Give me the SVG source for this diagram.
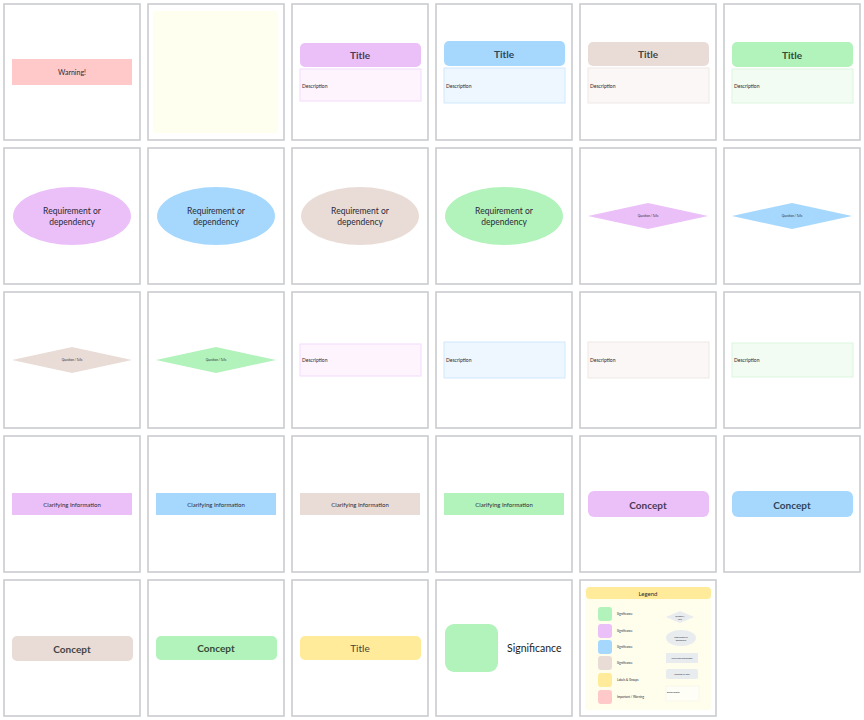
<svg xmlns="http://www.w3.org/2000/svg" width="864" height="720" viewBox="0 0 864 720">
<style>
.cell{fill:#fff;stroke:#c9cbcf;stroke-width:1.6}
text{font-family:Lato,"Noto Sans",sans-serif;fill:#2a2a35;text-anchor:middle;dominant-baseline:central}
.s5{font-size:5px}
.s4{font-size:3px}
.s7{font-size:7px}
.s8{font-size:8.5px}
.t{font-size:10px;font-weight:bold;fill:#444}
.d{font-size:5px;text-anchor:start}
.pu{fill:#ebc0f8}.bl{fill:#a6d8fe}.br{fill:#e9dcd7}.gr{fill:#b2f2bb}.ye{fill:#ffeb99}.rd{fill:#ffc9c9}
.dpu{fill:#fdf4fe;stroke:#f3dcfb}.dbl{fill:#eef7ff;stroke:#cfe8fd}.dbr{fill:#faf7f6;stroke:#efe8e5}.dgr{fill:#f2fcf3;stroke:#dcf5df}
.lg{fill:#e9ecef}
</style>
<g id="grid">
<rect class="cell" x="4" y="4" width="136" height="136"/><rect class="cell" x="148" y="4" width="136" height="136"/><rect class="cell" x="292" y="4" width="136" height="136"/><rect class="cell" x="436" y="4" width="136" height="136"/><rect class="cell" x="580" y="4" width="136" height="136"/><rect class="cell" x="724" y="4" width="136" height="136"/>
<rect class="cell" x="4" y="148" width="136" height="136"/><rect class="cell" x="148" y="148" width="136" height="136"/><rect class="cell" x="292" y="148" width="136" height="136"/><rect class="cell" x="436" y="148" width="136" height="136"/><rect class="cell" x="580" y="148" width="136" height="136"/><rect class="cell" x="724" y="148" width="136" height="136"/>
<rect class="cell" x="4" y="292" width="136" height="136"/><rect class="cell" x="148" y="292" width="136" height="136"/><rect class="cell" x="292" y="292" width="136" height="136"/><rect class="cell" x="436" y="292" width="136" height="136"/><rect class="cell" x="580" y="292" width="136" height="136"/><rect class="cell" x="724" y="292" width="136" height="136"/>
<rect class="cell" x="4" y="436" width="136" height="136"/><rect class="cell" x="148" y="436" width="136" height="136"/><rect class="cell" x="292" y="436" width="136" height="136"/><rect class="cell" x="436" y="436" width="136" height="136"/><rect class="cell" x="580" y="436" width="136" height="136"/><rect class="cell" x="724" y="436" width="136" height="136"/>
<rect class="cell" x="4" y="580" width="136" height="136"/><rect class="cell" x="148" y="580" width="136" height="136"/><rect class="cell" x="292" y="580" width="136" height="136"/><rect class="cell" x="436" y="580" width="136" height="136"/><rect class="cell" x="580" y="580" width="136" height="136"/>
</g>
<g id="connectors"/>
<g id="warning"><rect class="rd" x="12" y="59" width="120" height="26"/><text class="s7" x="72" y="72">Warning!</text></g>
<g id="note"><rect x="153" y="11" width="125" height="122" rx="3" fill="#fffff0"/></g>
<g id="card-purple"><rect class="pu" x="300" y="43" width="121" height="24" rx="5"/><text class="t" x="360" y="55" style="fill:#4a3a55">Title</text><rect class="dpu" x="300" y="69" width="121" height="32"/><text class="d" x="302" y="85.5">Description</text></g>
<g id="card-blue"><rect class="bl" x="444" y="41" width="121" height="25" rx="5"/><text class="t" x="504" y="53.5" style="fill:#2f4458">Title</text><rect class="dbl" x="444" y="68" width="121" height="35"/><text class="d" x="446" y="85.5">Description</text></g>
<g id="card-brown"><rect class="br" x="588" y="42" width="121" height="24" rx="5"/><text class="t" x="648" y="54">Title</text><rect class="dbr" x="588" y="68" width="121" height="35"/><text class="d" x="590" y="85.5">Description</text></g>
<g id="card-green"><rect class="gr" x="732" y="42" width="121" height="25" rx="5"/><text class="t" x="792" y="54.5" style="fill:#334a37">Title</text><rect class="dgr" x="732" y="69" width="121" height="34"/><text class="d" x="734" y="85.5">Description</text></g>
<g id="req-purple"><ellipse class="pu" cx="72" cy="216" rx="59" ry="29"/><text class="s8" x="72" y="211">Requirement or</text><text class="s8" x="72" y="221.5">dependency</text></g>
<g id="req-blue"><ellipse class="bl" cx="216" cy="216" rx="59" ry="29"/><text class="s8" x="216" y="211">Requirement or</text><text class="s8" x="216" y="221.5">dependency</text></g>
<g id="req-brown"><ellipse class="br" cx="360" cy="216" rx="59" ry="29"/><text class="s8" x="360" y="211">Requirement or</text><text class="s8" x="360" y="221.5">dependency</text></g>
<g id="req-green"><ellipse class="gr" cx="504" cy="216" rx="59" ry="29"/><text class="s8" x="504" y="211">Requirement or</text><text class="s8" x="504" y="221.5">dependency</text></g>
<g id="q-purple"><polygon class="pu" points="588,216 648,203 708,216 648,229"/><text class="s4" x="648" y="216">Question / Tells</text></g>
<g id="q-blue"><polygon class="bl" points="732,216 792,203 852,216 792,229"/><text class="s4" x="792" y="216">Question / Tells</text></g>
<g id="q-brown"><polygon class="br" points="12,360 72,347 132,360 72,373"/><text class="s4" x="72" y="360">Question / Tells</text></g>
<g id="q-green"><polygon class="gr" points="156,360 216,347 276,360 216,373"/><text class="s4" x="216" y="360">Question / Tells</text></g>
<g id="desc-purple"><rect class="dpu" x="300" y="344" width="121" height="32"/><text class="d" x="302" y="360">Description</text></g>
<g id="desc-blue"><rect class="dbl" x="444" y="342" width="121" height="36"/><text class="d" x="446" y="359.5">Description</text></g>
<g id="desc-brown"><rect class="dbr" x="588" y="342" width="121" height="36"/><text class="d" x="590" y="359.5">Description</text></g>
<g id="desc-green"><rect class="dgr" x="732" y="343" width="121" height="34"/><text class="d" x="734" y="360">Description</text></g>
<g id="clar-purple"><rect class="pu" x="12" y="493" width="120" height="22"/><text class="s5" x="72" y="504" style="font-size:6px">Clarifying Information</text></g>
<g id="clar-blue"><rect class="bl" x="156" y="493" width="120" height="22"/><text class="s5" x="216" y="504" style="font-size:6px">Clarifying Information</text></g>
<g id="clar-brown"><rect class="br" x="300" y="493" width="120" height="22"/><text class="s5" x="360" y="504" style="font-size:6px">Clarifying Information</text></g>
<g id="clar-green"><rect class="gr" x="444" y="493" width="120" height="22"/><text class="s5" x="504" y="504" style="font-size:6px">Clarifying Information</text></g>
<g id="concept-purple"><rect class="pu" x="588" y="491" width="121" height="26" rx="6"/><text class="t" x="648" y="504.5" style="fill:#4a3a55">Concept</text></g>
<g id="concept-blue"><rect class="bl" x="732" y="491" width="121" height="26" rx="6"/><text class="t" x="792" y="504.5" style="fill:#2f4458">Concept</text></g>
<g id="concept-brown"><rect class="br" x="12" y="636" width="121" height="25" rx="5"/><text class="t" x="72" y="648.5">Concept</text></g>
<g id="concept-green"><rect class="gr" x="156" y="636" width="121" height="24" rx="5"/><text class="t" x="216" y="648" style="fill:#334a37">Concept</text></g>
<g id="title-yellow"><rect class="ye" x="300" y="636" width="121" height="24" rx="5"/><text class="t" x="360" y="648" style="font-weight:normal;font-size:10px">Title</text></g>
<g id="significance"><rect class="gr" x="445" y="624" width="53" height="48" rx="9"/><text x="507" y="648" style="font-size:10.5px;text-anchor:start;fill:#222">Significance</text></g>
<g id="legend">
<rect x="585" y="587" width="126" height="123" rx="4" fill="#fffdeb"/>
<rect class="ye" x="586" y="587" width="125" height="12" rx="4"/>
<text class="s5" x="648" y="593" style="font-size:6px">Legend</text>
<rect class="gr" x="598" y="607" width="14" height="14" rx="3"/><text class="s4" x="617" y="614" style="text-anchor:start">Significance</text>
<rect class="pu" x="598" y="624" width="14" height="14" rx="3"/><text class="s4" x="617" y="631" style="text-anchor:start">Significance</text>
<rect class="bl" x="598" y="640" width="14" height="14" rx="3"/><text class="s4" x="617" y="647" style="text-anchor:start">Significance</text>
<rect class="br" x="598" y="656" width="14" height="14" rx="3"/><text class="s4" x="617" y="663" style="text-anchor:start">Significance</text>
<rect class="ye" x="598" y="673" width="14" height="14" rx="3"/><text class="s4" x="617" y="680" style="text-anchor:start">Labels &amp; Groups</text>
<rect x="598" y="690" width="14" height="14" rx="3" fill="#ffc9c9"/><text class="s4" x="617" y="697" style="text-anchor:start">Important / Warning</text>
<polygon class="lg" points="666,617 680,611 694,617 680,623"/><text class="s4" x="680" y="616" style="font-size:2px">Question /</text><text class="s4" x="680" y="618.5" style="font-size:2px">Tells</text>
<ellipse class="lg" cx="681" cy="638" rx="15" ry="8"/><text class="s4" x="681" y="636.5" style="font-size:2px">Requirement or</text><text class="s4" x="681" y="639.5" style="font-size:2px">dependency</text>
<rect class="lg" x="666" y="653" width="32" height="10"/><text class="s4" x="682" y="658" style="font-size:2.2px">Clarifying Information</text>
<rect class="lg" x="666" y="669" width="32" height="10" rx="2"/><text class="s4" x="682" y="674" style="font-size:2.2px">Concept or Title</text>
<rect x="666" y="686" width="33" height="15" fill="#fffef6" stroke="#f3f1e4" stroke-width="0.5"/><text class="s4" x="667" y="692" style="font-size:2.5px;text-anchor:start">Description</text>
</g>
</svg>
